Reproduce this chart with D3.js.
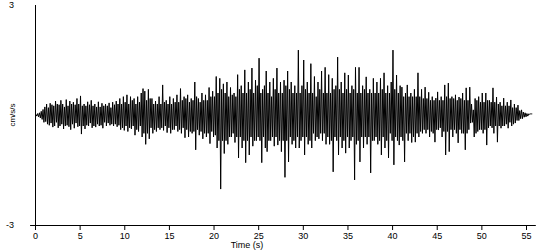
<!DOCTYPE html>
<html>
<head>
<meta charset="utf-8">
<script src="https://cdn.jsdelivr.net/npm/d3@7"></script>
<style>
  body { margin: 0; background: #fff; }
  text { font-family: "Liberation Sans", Arial, sans-serif; fill: #000; }
</style>
</head>
<body>
<div id="accel"></div>
<script>
///////////////////////////////////////////////
// Data ///////////////////////////////////////
///////////////////////////////////////////////

// acceleration record, one value every 0.1 s (cm/s/s), one row per second
var sampleStep = 0.1;
var accel = [
  0, 0.02, -0.03, 0.04, -0.05, 0.06, -0.08, 0.1, -0.12, 0.15,
  -0.2, 0.22, -0.18, 0.3, -0.25, 0.2, -0.28, 0.32, -0.22, 0.28,
  -0.33, 0.25, -0.3, 0.38, -0.2, 0.3, -0.35, 0.28, -0.3, 0.4,
  -0.25, 0.3, -0.38, 0.22, -0.3, 0.42, -0.28, 0.25, -0.32, 0.38,
  -0.4, 0.3, -0.25, 0.35, -0.36, 0.28, -0.22, 0.45, -0.32, 0.3,
  -0.3, 0.52, -0.52, 0.25, -0.3, 0.3, -0.38, 0.25, -0.28, 0.36,
  -0.3, 0.28, -0.22, 0.4, -0.35, 0.25, -0.3, 0.3, -0.33, 0.22,
  -0.25, 0.36, -0.3, 0.22, -0.28, 0.32, -0.36, 0.25, -0.2, 0.3,
  -0.3, 0.25, -0.22, 0.33, -0.28, 0.2, -0.25, 0.35, -0.3, 0.28,
  -0.25, 0.38, -0.32, 0.3, -0.28, 0.45, -0.4, 0.3, -0.35, 0.5,
  -0.42, 0.35, -0.3, 0.55, -0.45, 0.3, -0.35, 0.5, -0.38, 0.4,
  -0.3, 0.45, -0.55, 0.3, -0.4, 0.5, -0.45, 0.35, -0.3, 0.6,
  -0.6, 0.72, -0.5, 0.65, -0.8, 0.4, -0.5, 0.7, -0.65, 0.45,
  -0.35, 0.45, -0.5, 0.3, -0.4, 0.38, -0.45, 0.3, -0.35, 0.5,
  -0.4, 0.3, -0.35, 0.82, -0.42, 0.35, -0.3, 0.4, -0.48, 0.3,
  -0.35, 0.5, -0.5, 0.3, -0.4, 0.45, -0.4, 0.35, -0.3, 0.55,
  -0.45, 0.35, -0.4, 0.72, -0.5, 0.4, -0.35, 0.5, -0.62, 0.45,
  -0.4, 0.55, -0.6, 0.35, -0.45, 0.45, -0.5, 0.4, -0.45, 0.9,
  -0.95, 0.5, -0.4, 0.45, -0.55, 0.35, -0.45, 0.6, -0.65, 0.4,
  -0.5, 0.55, -0.6, 0.4, -0.5, 0.75, -0.78, 0.5, -0.45, 0.65,
  -0.6, 0.5, -0.55, 1.05, -0.9, 0.6, -0.7, 1.0, -2.02, 0.7,
  -0.7, 0.85, -1.05, 0.6, -0.7, 0.9, -0.8, 0.5, -0.6, 0.75,
  -0.6, 0.55, -0.5, 0.6, -0.75, 0.5, -0.6, 1.1, -1.17, 0.7,
  -0.6, 0.8, -0.9, 0.6, -0.7, 1.23, -1.3, 0.6, -0.7, 0.9,
  -1.09, 0.7, -0.6, 1.28, -0.85, 0.6, -0.7, 0.95, -0.7, 0.8,
  -0.6, 1.55, -0.7, 0.6, -1.3, 0.7, -0.6, 0.8, -0.9, 1.2,
  -1.0, 0.6, -0.7, 0.9, -0.7, 0.5, -0.6, 1.0, -0.85, 0.7,
  -0.6, 1.28, -0.82, 0.6, -0.7, 0.9, -1.0, 0.6, -0.7, 0.95,
  -1.7, 0.8, -0.7, 1.2, -1.28, 0.7, -0.6, 0.9, -0.8, 0.6,
  -0.7, 0.8, -0.9, 0.6, -0.6, 1.77, -0.9, 0.6, -0.7, 0.8,
  -0.6, 1.5, -1.09, 0.7, -0.6, 0.9, -0.8, 0.6, -0.7, 1.4,
  -0.9, 0.6, -0.5, 1.05, -0.7, 0.5, -0.6, 0.9, -0.65, 0.7,
  -0.5, 1.2, -0.7, 0.6, -0.5, 1.3, -0.8, 0.6, -0.6, 1.1,
  -0.8, 0.6, -0.7, 1.0, -1.55, 0.7, -0.6, 0.8, -0.7, 1.58,
  -1.09, 0.7, -0.6, 0.9, -0.9, 0.6, -0.7, 1.15, -1.04, 0.7,
  -0.6, 1.09, -0.9, 0.6, -0.7, 0.8, -0.6, 0.7, -1.77, 1.3,
  -0.8, 0.6, -0.7, 1.3, -1.28, 0.6, -0.6, 0.8, -0.9, 0.7,
  -0.6, 1.04, -0.8, 0.6, -0.6, 0.7, -1.58, 0.6, -0.7, 1.0,
  -0.7, 0.6, -0.6, 0.9, -0.8, 0.6, -0.7, 1.0, -1.09, 0.7,
  -0.6, 1.15, -0.9, 0.6, -0.7, 0.8, -1.17, 0.6, -0.5, 0.9,
  -0.7, 1.77, -1.36, 0.7, -0.6, 1.09, -0.7, 0.6, -0.82, 0.8,
  -0.6, 0.76, -0.7, 0.5, -1.28, 0.6, -0.5, 0.82, -0.7, 0.5,
  -0.5, 0.6, -0.75, 0.5, -0.6, 0.7, -0.74, 0.5, -0.5, 1.15,
  -0.6, 0.5, -0.45, 0.7, -0.5, 0.45, -0.4, 0.76, -0.5, 0.45,
  -0.4, 0.62, -0.6, 0.4, -0.45, 0.5, -0.5, 0.4, -0.74, 0.46,
  -0.4, 0.63, -0.41, 0.4, -0.35, 0.5, -0.6, 0.4, -0.45, 0.82,
  -1.09, 0.5, -0.45, 0.87, -1.0, 0.45, -0.4, 0.5, -0.6, 0.45,
  -0.4, 0.55, -0.5, 0.4, -0.76, 0.49, -0.4, 0.45, -0.5, 0.6,
  -0.5, 0.4, -0.95, 0.74, -0.5, 0.4, -0.4, 0.76, -0.22, 0.3,
  -0.2, 0.14, -0.6, 0.45, -0.5, 0.4, -0.45, 0.5, -0.4, 0.35,
  -0.4, 0.6, -0.5, 0.35, -0.4, 0.6, -0.82, 0.4, -0.35, 0.4,
  -0.3, 0.35, -0.35, 0.74, -0.5, 0.35, -0.3, 0.49, -0.74, 0.3,
  -0.3, 0.35, -0.36, 0.25, -0.3, 0.46, -0.3, 0.25, -0.25, 0.35,
  -0.36, 0.25, -0.2, 0.41, -0.3, 0.2, -0.25, 0.3, -0.22, 0.2,
  -0.15, 0.27, -0.15, 0.12, -0.1, 0.14, -0.1, 0.08, -0.06, 0.06,
  -0.05, 0.04, -0.03, 0.03, 0.02, 0.03, 0.03, 0.03
];

var xTicks = [0, 5, 10, 15, 20, 25, 30, 35, 40, 45, 50, 55];
var yLabels = [3, -3];
var xTitle = "Time (s)";
var yTitle = "cm/s/s";

///////////////////////////////////////////////
// Graph parameters ///////////////////////////
///////////////////////////////////////////////

var width = 550, height = 250;
var plot = { left: 35, right: 526, top: 5, bottom: 225 };

var svg = d3.select("#accel").append("svg")
    .attr("width", width)
    .attr("height", height);

var x = d3.scaleLinear()
    .domain([0, 55])
    .range([plot.left, plot.right]);

var y = d3.scaleLinear()
    .domain([-3, 3])
    .range([plot.bottom, plot.top]);

///////////////////////////////////////////////
// Axes ///////////////////////////////////////
///////////////////////////////////////////////

var xAxis = d3.axisBottom(x)
  .tickValues(xTicks)
  .tickSize(5)
  .tickSizeOuter(0)
  .tickPadding(2);

svg.append("g")
  .attr("class", "axisX")
  .attr("transform", "translate(0," + plot.bottom + ")")
  .call(customXAxis);

function customXAxis(g) {
  g.call(xAxis);
  g.select(".domain").remove();
  g.selectAll(".tick line").attr("stroke", "#000");
  g.selectAll(".tick text")
    .style("font-size", "9px")
    .style("font-family", "'Liberation Sans', Arial, sans-serif")
    .attr("fill", "#000")
    .attr("dy", "0.71em")
    .attr("y", 8);
}

// axis lines
svg.append("line")
  .attr("x1", x(-0.55)).attr("x2", x(56.1))
  .attr("y1", plot.bottom + 0.5).attr("y2", plot.bottom + 0.5)
  .attr("stroke", "#000");

svg.append("line")
  .attr("x1", plot.left + 0.5).attr("x2", plot.left + 0.5)
  .attr("y1", y(3)).attr("y2", plot.bottom)
  .attr("stroke", "#000");

// y end labels
svg.selectAll(".ylab")
  .data(yLabels)
  .enter().append("text")
  .attr("class", "ylab")
  .attr("x", 14)
  .attr("y", function(d) { return y(d); })
  .attr("dy", "0.3em")
  .style("text-anchor", "end")
  .style("font-size", "9px")
  .text(function(d) { return d; });

// titles
svg.append("text")
  .attr("x", 247)
  .attr("y", 248)
  .style("text-anchor", "middle")
  .style("font-size", "9px")
  .text(xTitle);

svg.append("text")
  .attr("transform", "translate(15," + y(0) + ") rotate(-90)")
  .style("text-anchor", "middle")
  .style("font-size", "8px")
  .text(yTitle);

///////////////////////////////////////////////
// Trace //////////////////////////////////////
///////////////////////////////////////////////

var trace = d3.line()
    .x(function(d, i) { return x(i * sampleStep); })
    .y(function(d) { return y(d); });

svg.append("path")
  .datum(accel)
  .attr("fill", "none")
  .attr("stroke", "#000")
  .attr("stroke-width", 1)
  .attr("d", trace);
</script>
</body>
</html>
